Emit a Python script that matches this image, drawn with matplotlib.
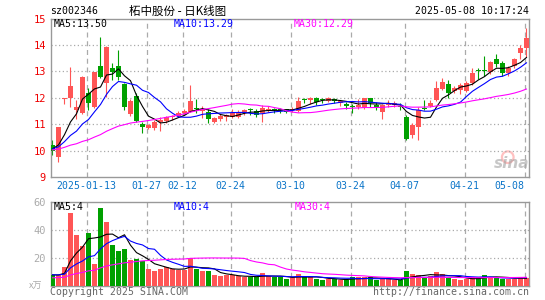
import numpy as np
import pandas as pd
import matplotlib
matplotlib.use("Agg")
import matplotlib.pyplot as plt

# daily bars 2025-01-03 .. 2025-05-08, 80 trading days
opens = [10.20, 9.77, 11.95, 12.00, 11.53, 11.43, 12.17, 11.66, 13.20, 12.55,
         13.12, 13.20, 12.52, 11.40, 12.05, 11.00, 10.84, 10.84, 11.09, 11.13,
         11.26, 11.31, 11.41, 11.47, 11.58, 11.51, 11.47, 11.09, 11.18, 11.28,
         11.26, 11.26, 11.43, 11.55, 11.50, 11.43, 11.53, 11.58, 11.58, 11.56,
         11.53, 11.50, 11.92, 11.91, 11.98, 11.92, 11.89, 11.94, 11.81, 11.76,
         11.68, 11.64, 11.60, 12.00, 11.72, 11.47, 11.72, 11.72, 11.68, 11.26,
         10.59, 10.88, 11.60, 11.69, 11.91, 12.32, 12.52, 12.25, 12.29, 12.27,
         12.55, 13.04, 13.02, 12.98, 13.45, 13.33, 12.92, 13.21, 13.70, 13.87]
highs = [10.39, 10.90, 12.00, 13.17, 11.90, 12.82, 12.38, 12.98, 14.31, 13.95,
         13.30, 13.81, 12.55, 11.95, 12.17, 11.09, 11.00, 11.15, 11.26, 11.30,
         11.35, 11.48, 11.58, 12.48, 11.94, 11.69, 11.56, 11.26, 11.39, 11.39,
         11.56, 11.52, 11.56, 11.60, 11.56, 11.74, 11.69, 11.62, 11.62, 11.58,
         11.66, 12.02, 12.00, 12.04, 12.04, 12.00, 12.04, 11.98, 11.87, 11.84,
         11.77, 11.94, 12.00, 12.00, 11.84, 11.76, 11.91, 11.88, 11.79, 11.35,
         11.03, 11.64, 11.93, 11.91, 12.62, 12.75, 12.69, 12.44, 12.55, 12.62,
         13.14, 13.11, 13.58, 13.38, 13.65, 13.38, 13.20, 13.50, 14.00, 14.63]
lows = [9.85, 9.58, 11.75, 11.66, 11.20, 11.40, 11.53, 11.62, 12.73, 12.04,
        12.67, 12.67, 11.53, 11.31, 11.08, 10.67, 10.80, 10.78, 10.75, 11.05,
        11.16, 11.26, 11.35, 11.46, 11.43, 11.24, 11.05, 11.05, 11.13, 11.13,
        11.22, 11.22, 11.35, 11.35, 11.26, 11.09, 11.47, 11.41, 11.43, 11.41,
        11.47, 11.47, 11.81, 11.77, 11.72, 11.80, 11.85, 11.81, 11.70, 11.58,
        11.43, 11.58, 11.56, 11.66, 11.54, 11.20, 11.66, 11.66, 11.54, 10.39,
        10.46, 10.39, 11.54, 11.64, 11.88, 12.30, 12.00, 12.17, 12.14, 12.20,
        12.50, 12.70, 12.84, 12.90, 13.17, 12.84, 12.84, 13.14, 13.45, 13.55]
closes = [10.00, 10.88, 12.00, 12.44, 11.64, 12.80, 11.81, 12.98, 12.80, 13.91,
          12.98, 12.80, 11.66, 11.88, 11.13, 10.88, 10.97, 11.09, 11.16, 11.26,
          11.31, 11.43, 11.50, 11.89, 11.56, 11.56, 11.18, 11.22, 11.31, 11.33,
          11.41, 11.47, 11.53, 11.53, 11.35, 11.62, 11.56, 11.55, 11.53, 11.47,
          11.58, 11.88, 11.90, 11.98, 11.85, 11.90, 11.98, 11.87, 11.87, 11.69,
          11.66, 11.72, 12.00, 11.79, 11.64, 11.72, 11.81, 11.79, 11.66, 10.42,
          10.97, 11.53, 11.58, 11.81, 12.36, 12.61, 12.19, 12.38, 12.48, 12.57,
          12.95, 13.00, 13.00, 13.36, 13.28, 12.92, 13.14, 13.45, 13.87, 14.25]
volumes = [7.3, 7.8, 13.0, 52.0, 36.2, 28.4, 37.9, 15.6, 55.6, 45.7,
           29.1, 24.8, 26.3, 18.5, 19.2, 17.8, 12.1, 10.7, 12.1, 13.0,
           12.1, 10.9, 11.3, 19.6, 12.1, 10.2, 10.2, 7.8, 6.6, 7.3,
           7.3, 6.6, 6.1, 6.1, 6.1, 9.0, 7.0, 6.1, 5.9, 4.7,
           5.9, 8.5, 5.9, 5.9, 5.0, 4.3, 5.0, 5.0, 3.8, 3.8,
           6.1, 5.9, 5.9, 6.1, 3.8, 4.7, 4.7, 3.8, 3.8, 10.7,
           8.5, 7.8, 5.9, 6.6, 9.5, 8.5, 5.5, 4.7, 3.8, 5.0,
           5.9, 5.9, 7.8, 5.9, 5.9, 5.0, 4.7, 5.0, 6.1, 5.5]

# closes / volumes before the window (estimated from where the MA lines start)
prev_closes = [9.95, 10.02, 9.98, 10.05, 10.10, 9.96, 9.92, 10.04, 10.08, 9.99,
               9.94, 10.01, 10.06, 10.12, 10.03, 9.97, 9.90, 9.95, 10.00, 10.07,
               10.11, 10.04, 10.08, 10.02, 10.09, 10.13, 10.06, 10.03, 10.10]
prev_volumes = [4.2, 4.8, 3.9, 4.5, 5.1, 4.0, 4.4, 3.8, 4.6, 4.9,
                4.1, 4.3, 5.0, 4.7, 3.9, 4.2, 4.6, 4.4, 4.8, 7.5,
                8.2, 7.9, 6.8, 8.5, 7.6, 8.0, 7.2, 7.7, 8.3]

tick_idx = [6, 16, 22, 30, 40, 50, 59, 69, 79]
tick_lbl = ['2025-01-13', '01-27', '02-12', '02-24', '03-10', '03-24',
            '04-07', '04-21', '05-08']

UP = '#ff5555'
DOWN = '#00a000'
GRID = '#aaaaaa'
MONO = 'DejaVu Sans Mono'

n = len(closes)
x = np.arange(n)
o = np.array(opens); c = np.array(closes)
up = c >= o
cols = np.where(up, UP, DOWN)

ma = {}
for w in (5, 10, 30):
    s = pd.Series(prev_closes + closes).rolling(w).mean().to_numpy()[-n:]
    v = pd.Series(prev_volumes + volumes).rolling(w).mean().to_numpy()[-n:]
    ma[w] = (s, v)
ma_cols = {5: 'black', 10: 'blue', 30: 'magenta'}

fig = plt.figure(figsize=(5.45, 3.0), dpi=100)
W, H = 545.0, 300.0

def fx(px):
    return px / W

def fy(py):
    return 1 - py / H

L, R = 50.7, 529.3
ax = fig.add_axes([fx(L), fy(177), (R - L) / W, (177 - 18.5) / H])
axv = fig.add_axes([fx(L), fy(285.7), (R - L) / W, (285.7 - 201.5) / H])

xl = (-0.3, 79.47)
grid_x = [t - 0.33 for t in tick_idx]

# sina watermark (behind the bars)
ax.scatter([0.955], [0.125], s=70, marker='o', facecolors='none',
           edgecolors='#ff7777', linewidths=1.6, alpha=0.45,
           transform=ax.transAxes, zorder=0)
ax.text(0.962, 0.085, 'sina', transform=ax.transAxes, fontsize=11,
        fontweight='bold', style='italic', color='#999999', alpha=0.55,
        ha='center', va='center', zorder=0)

# price panel
ax.vlines(x, lows, highs, colors=cols, lw=0.8, zorder=2)
body = np.maximum(np.abs(c - o), 0.035)
ax.bar(x, body, bottom=np.minimum(o, c), width=0.8, color=cols, zorder=3)
for w in (5, 10, 30):
    ax.plot(x, ma[w][0], color=ma_cols[w], lw=0.8, zorder=4)
ax.set_xlim(*xl)
ax.set_ylim(9, 15)
ax.set_yticks(range(9, 16))
ax.set_yticklabels([str(v) for v in range(9, 16)], color='#ee0000',
                   fontsize=7.5, family=MONO)
for y in range(10, 15):
    ax.axhline(y, color=GRID, lw=0.9, ls=(0, (1, 2)), zorder=1)
for g in grid_x:
    ax.axvline(g, color=GRID, lw=0.9, ls=(0, (4, 3)), zorder=1)
ax.set_xticks([])

# volume panel
axv.bar(x, volumes, width=0.8, color=cols, zorder=3)
for w in (5, 10, 30):
    axv.plot(x, ma[w][1], color=ma_cols[w], lw=0.8, zorder=4)
axv.set_xlim(*xl)
axv.set_ylim(0, 60)
axv.set_yticks([20, 40, 60])
axv.set_yticklabels(['20', '40', '60'], color='#aaaaaa', fontsize=7.5, family=MONO)
for y in (20, 40):
    axv.axhline(y, color=GRID, lw=0.9, ls=(0, (1, 2)), zorder=1)
for g in grid_x:
    axv.axvline(g, color=GRID, lw=0.9, ls=(0, (4, 3)), zorder=1)
axv.set_xticks([])

for a in (ax, axv):
    a.tick_params(axis='y', length=0, pad=3.5)
    for sp in a.spines.values():
        sp.set_color('#999999')
        sp.set_linewidth(1.0)

# date labels under price panel
for k, (g, t) in enumerate(zip(grid_x, tick_lbl)):
    ha = 'right' if k == len(grid_x) - 1 else 'center'
    ax.text(g, -0.058, t, transform=ax.get_xaxis_transform(), ha=ha, va='center',
            color='#0a74c8', fontsize=7.1, family=MONO)

# headers
fig.text(fx(50), fy(11.5), 'sz002346', fontsize=7.1, family=MONO, va='center')
fig.text(fx(178), fy(11), '柘中股份 - 日K线图', fontsize=8.3,
         family=['Noto Sans CJK SC', 'DejaVu Sans'], va='center', ha='center')
fig.text(fx(529), fy(11.5), '2025-05-08 10:17:24', fontsize=7.1, family=MONO,
         va='center', ha='right')

fig.text(fx(54), fy(24), 'MA5:13.50', fontsize=7.1, family=MONO, va='center', color='black')
fig.text(fx(174), fy(24), 'MA10:13.29', fontsize=7.1, family=MONO, va='center', color='blue')
fig.text(fx(294), fy(24), 'MA30:12.29', fontsize=7.1, family=MONO, va='center', color='magenta')
fig.text(fx(54), fy(206.7), 'MA5:4', fontsize=7.1, family=MONO, va='center', color='black')
fig.text(fx(174), fy(206.7), 'MA10:4', fontsize=7.1, family=MONO, va='center', color='blue')
fig.text(fx(295), fy(206.7), 'MA30:4', fontsize=7.1, family=MONO, va='center', color='magenta')

fig.text(fx(29), fy(286), 'x万', fontsize=6.5, color='#aaaaaa',
         family=['Noto Sans CJK SC', 'DejaVu Sans'], va='center')
fig.text(fx(50), fy(292), 'Copyright 2025 SINA.COM', fontsize=7.1, family=MONO,
         va='center', color='#666666')
fig.text(fx(529), fy(292), 'http://finance.sina.com.cn', fontsize=7.1, family=MONO,
         va='center', ha='right', color='#666666')

fig.savefig('out.png', dpi=100)
